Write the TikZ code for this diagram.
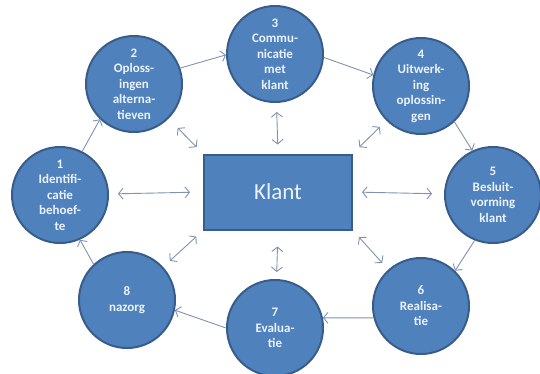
\documentclass[tikz,border=0pt]{standalone}
\usepackage{fontspec}
\setmainfont{Carlito}
\usepackage{tikz}
\usetikzlibrary{arrows.meta,%
                shapes,positioning}
\definecolor{fase}{RGB}{79,129,189}
\definecolor{rand}{RGB}{56,93,138}
\definecolor{pijl}{RGB}{128,146,176}
\definecolor{tekst}{RGB}{236,242,250}

\begin{document}
\begin{tikzpicture}[x=1pt,y=-1pt,
  fase/.style={circle,draw=rand,line width=2pt,fill=fase,minimum size=96pt,inner sep=0pt,
    text=tekst,font=\bfseries\fontsize{13}{15.5}\selectfont,align=center},
  klant/.style={rectangle,draw=rand,line width=2pt,fill=fase,minimum width=148pt,
    minimum height=75pt,text=tekst,font=\fontsize{23}{27}\selectfont},
  stap/.style={draw=pijl,line width=0.9pt,-{Straight Barb[length=4.5pt,width=11pt]}},
  wissel/.style={draw=pijl,line width=0.9pt,
    {Straight Barb[length=4.5pt,width=11pt]}-{Straight Barb[length=4.5pt,width=11pt]},
    shorten <=9pt,shorten >=9pt}]
\useasboundingbox (0,0) rectangle (540,373);
\node[klant] (K) at (278,192) {Klant};
\node[fase] (F1) at (60,195) {1\\Identifi-\\catie\\behoef-\\te};
\node[fase] (F2) at (134,84) {2\\Oploss-\\ingen\\alterna-\\tieven};
\node[fase] (F3) at (275,54) {3\\Commu-\\nicatie\\met\\klant};
\node[fase] (F4) at (421,86) {4\\Uitwerk-\\ing\\oplossin-\\gen};
\node[fase] (F5) at (493,195) {5\\Besluit-\\vorming\\klant};
\node[fase] (F6) at (421,306) {6\\Realisa-\\tie};
\node[fase] (F7) at (275,328) {7\\Evalua-\\tie};
\node[fase] (F8) at (127,300) {8\\nazorg};
% de cyclus
\draw[stap] (F1.63) -- (F2.226);
\draw[stap] (F2.19) -- (F3.181);
\draw[stap] (F3.356) -- (F4.167);
\draw[stap] (F4.313) -- (F5.115);
\draw[stap] (F5.248) -- (F6.46);
\draw[stap] (F6.194) -- (F7.12);
\draw[stap] (F7.180) -- (F8.348);
\draw[stap] (F8.133) -- (F1.294);
% klant in het midden
\draw[wissel, shorten <=13pt] (K.west) -- (F1);
\draw[wissel, shorten >=13pt] (K.north west) -- (F2);
\draw[wissel] (K.north) -- (F3);
\draw[wissel] (K.north east) -- (F4);
\draw[wissel, shorten >=12pt] (K.east) -- (F5);
\draw[wissel] (K.south east) -- (F6);
\draw[wissel, shorten <=16pt, shorten >=7pt] (K.south) -- (F7);
\draw[wissel] (K.south west) -- (F8);
\end{tikzpicture}
\end{document}
